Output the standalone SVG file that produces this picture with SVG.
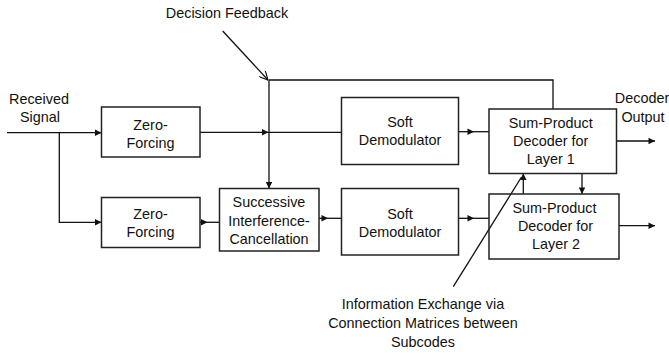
<svg xmlns="http://www.w3.org/2000/svg" width="669" height="354" viewBox="0 0 669 354">
<style>
text{font-family:"Liberation Sans",Arial,sans-serif;font-size:14.4px;fill:#111;text-anchor:middle;dominant-baseline:central}
.box{fill:none;stroke:#222;stroke-width:1.5}
.ln{fill:none;stroke:#111;stroke-width:1.3}
</style>
<defs>
<marker id="arr" viewBox="0 0 10 10" refX="10" refY="5" markerUnits="userSpaceOnUse" markerWidth="8" markerHeight="6.5" orient="auto"><path d="M0,0 L10,5 L0,10 z" fill="#111"/></marker>
<marker id="open" viewBox="0 0 10 10" refX="10" refY="5" markerUnits="userSpaceOnUse" markerWidth="10" markerHeight="9" orient="auto"><path d="M0,0 L10,5 L0,10" fill="none" stroke="#111" stroke-width="1.3"/></marker>
</defs>
<g id="connectors">
<path class="ln" d="M7,132.7 L101.5,132.7" marker-end="url(#arr)"/>
<path class="ln" d="M59.3,132.7 L59.3,222.3 L101.5,222.3" marker-end="url(#arr)"/>
<path class="ln" d="M200,132.3 L268.5,132.3 L341.5,132.3" marker-mid="url(#arr)"/>
<path class="ln" d="M269,80 L269,188.5" marker-end="url(#arr)"/>
<path class="ln" d="M269,80 L553,80 L553,109"/>
<path class="ln" d="M200,222.3 L207.5,222.3 L219.5,222.3" marker-mid="url(#arr)"/>
<path class="ln" d="M319,218.3 L328,218.3 L341.5,218.3" marker-mid="url(#arr)"/>
<path class="ln" d="M458.5,131.7 L474,131.7 L489,131.7" marker-mid="url(#arr)"/>
<path class="ln" d="M458.5,218.3 L474,218.3 L489,218.3" marker-mid="url(#arr)"/>
<path class="ln" d="M616.5,141 L655,141" marker-end="url(#arr)"/>
<path class="ln" d="M619,225.7 L655,225.7" marker-end="url(#arr)"/>
<path class="ln" d="M582,173.5 L582,194" marker-end="url(#arr)"/>
<path class="ln" d="M523.3,194 L523.3,173.5" marker-end="url(#arr)"/>
<path class="ln" d="M453.3,286.7 L521.5,177"/>
<path class="ln" d="M222.7,31 L268,80" marker-end="url(#open)"/>
</g>
<g id="zf1"><rect class="box" x="101.5" y="107" width="98.5" height="50"/><text x="150.5" y="125">Zero-</text><text x="150.5" y="142.7">Forcing</text></g>
<g id="zf2"><rect class="box" x="101.5" y="197.5" width="98.5" height="50"/><text x="150.5" y="214.3">Zero-</text><text x="150.5" y="232.3">Forcing</text></g>
<g id="sic"><rect class="box" x="219.5" y="188.5" width="99.5" height="62.5"/><text x="269" y="202.3">Successive</text><text x="269" y="220.7">Interference-</text><text x="269" y="239">Cancellation</text></g>
<g id="sd1"><rect class="box" x="341.5" y="97.5" width="117" height="67"/><text x="400" y="122.3">Soft</text><text x="400" y="140">Demodulator</text></g>
<g id="sd2"><rect class="box" x="341.5" y="188.5" width="117" height="66.5"/><text x="400" y="214">Soft</text><text x="400" y="232.3">Demodulator</text></g>
<g id="spd1"><rect class="box" x="489" y="109" width="127.5" height="64.5"/><text x="550.7" y="123.3">Sum-Product</text><text x="550.7" y="141">Decoder for</text><text x="550.7" y="159.3">Layer 1</text></g>
<g id="spd2"><rect class="box" x="489" y="194" width="130" height="65"/><text x="554.5" y="207.7">Sum-Product</text><text x="555.5" y="225.7">Decoder for</text><text x="556" y="244.3">Layer 2</text></g>
<g id="labels">
<text x="227" y="13">Decision Feedback</text>
<text x="39" y="99">Received</text><text x="40" y="117">Signal</text>
<text x="642" y="98">Decoder</text><text x="643" y="117">Output</text>
<text x="423" y="304.3">Information Exchange via</text>
<text x="423" y="323.3">Connection Matrices between</text>
<text x="423" y="342.3">Subcodes</text>
</g>
</svg>
